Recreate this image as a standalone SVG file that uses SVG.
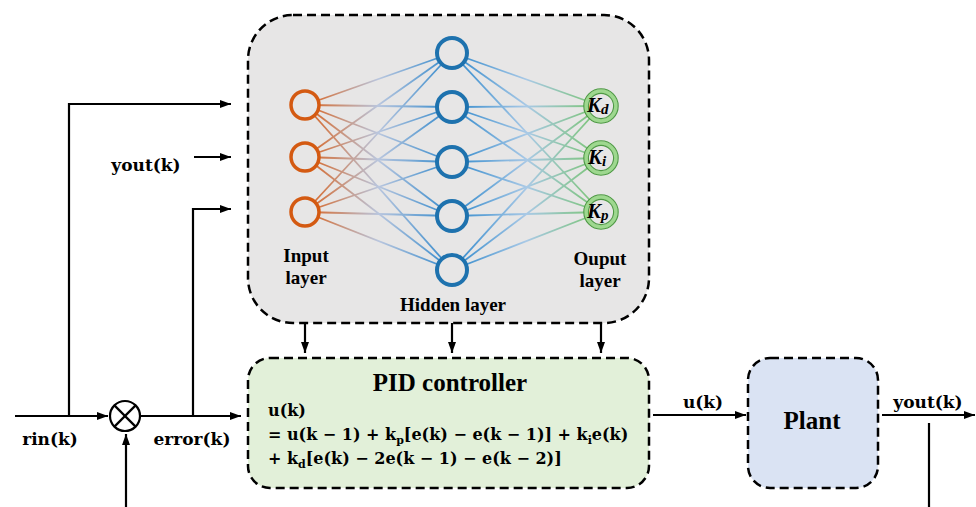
<svg xmlns="http://www.w3.org/2000/svg" width="976" height="507" viewBox="0 0 976 507">
<defs>
<marker id="ah" viewBox="0 0 11 10" refX="11" refY="5" markerWidth="11" markerHeight="10" markerUnits="userSpaceOnUse" orient="auto">
<path d="M0,1 L11,5 L0,9 Z" fill="#000"/>
</marker>
<linearGradient id="gIH" gradientUnits="userSpaceOnUse" x1="305" y1="0" x2="452" y2="0">
<stop offset="0" stop-color="#D9621E"/>
<stop offset="0.5" stop-color="#B9C6DE"/>
<stop offset="1" stop-color="#2F88CC"/>
</linearGradient>
<linearGradient id="gHO" gradientUnits="userSpaceOnUse" x1="452" y1="0" x2="601" y2="0">
<stop offset="0" stop-color="#2F88CC"/>
<stop offset="0.5" stop-color="#A9C9E6"/>
<stop offset="1" stop-color="#78C46E"/>
</linearGradient>
</defs>
<style>
.box{stroke:#000;stroke-width:2.5;stroke-dasharray:9 5}
.ln{fill:none;stroke:#000;stroke-width:2.2}
.ih{stroke:url(#gIH);stroke-width:1.8}
.ho{stroke:url(#gHO);stroke-width:1.8}
.in{fill:#E7E6E6;stroke:#D45A12;stroke-width:3.5}
.hid{fill:#E7E6E6;stroke:#1E72AE;stroke-width:4}
.out{fill:#E7E6E6;stroke:#9ED88F;stroke-width:4}
.ring{fill:none;stroke:#4E9A44;stroke-width:1.1}
</style>
<rect width="976" height="507" fill="#fff"/>

<g id="nn">
<rect class="box" x="248" y="15" width="401" height="308" rx="45" fill="#E7E6E6"/>
<g id="edges-ih" class="ih">
<line x1="305" y1="105" x2="452" y2="53"/><line x1="305" y1="105" x2="452" y2="107"/><line x1="305" y1="105" x2="452" y2="162"/><line x1="305" y1="105" x2="452" y2="216"/><line x1="305" y1="105" x2="452" y2="270"/>
<line x1="305" y1="157" x2="452" y2="53"/><line x1="305" y1="157" x2="452" y2="107"/><line x1="305" y1="157" x2="452" y2="162"/><line x1="305" y1="157" x2="452" y2="216"/><line x1="305" y1="157" x2="452" y2="270"/>
<line x1="305" y1="212" x2="452" y2="53"/><line x1="305" y1="212" x2="452" y2="107"/><line x1="305" y1="212" x2="452" y2="162"/><line x1="305" y1="212" x2="452" y2="216"/><line x1="305" y1="212" x2="452" y2="270"/>
</g>
<g id="edges-ho" class="ho">
<line x1="452" y1="53" x2="601" y2="106"/><line x1="452" y1="53" x2="601" y2="158"/><line x1="452" y1="53" x2="601" y2="212"/>
<line x1="452" y1="107" x2="601" y2="106"/><line x1="452" y1="107" x2="601" y2="158"/><line x1="452" y1="107" x2="601" y2="212"/>
<line x1="452" y1="162" x2="601" y2="106"/><line x1="452" y1="162" x2="601" y2="158"/><line x1="452" y1="162" x2="601" y2="212"/>
<line x1="452" y1="216" x2="601" y2="106"/><line x1="452" y1="216" x2="601" y2="158"/><line x1="452" y1="216" x2="601" y2="212"/>
<line x1="452" y1="270" x2="601" y2="106"/><line x1="452" y1="270" x2="601" y2="158"/><line x1="452" y1="270" x2="601" y2="212"/>
</g>
<g id="input-nodes">
<circle class="in" cx="305" cy="105" r="14"/>
<circle class="in" cx="305" cy="157" r="14"/>
<circle class="in" cx="305" cy="212" r="14"/>
</g>
<g id="hidden-nodes">
<circle class="hid" cx="452" cy="53" r="15"/>
<circle class="hid" cx="452" cy="107" r="15"/>
<circle class="hid" cx="452" cy="162" r="15"/>
<circle class="hid" cx="452" cy="216" r="15"/>
<circle class="hid" cx="452" cy="270" r="15"/>
</g>
<g id="output-nodes" font-family="Liberation Serif" font-weight="bold" font-style="italic" fill="#000">
<circle class="out" cx="601" cy="106" r="15"/><circle class="ring" cx="601" cy="106" r="12.6"/><circle class="ring" cx="601" cy="106" r="17.2"/>
<circle class="out" cx="601" cy="158" r="15"/><circle class="ring" cx="601" cy="158" r="12.6"/><circle class="ring" cx="601" cy="158" r="17.2"/>
<circle class="out" cx="601" cy="212" r="15"/><circle class="ring" cx="601" cy="212" r="12.6"/><circle class="ring" cx="601" cy="212" r="17.2"/>
<text x="587" y="112" font-size="21">K<tspan font-size="15" dy="2">d</tspan></text>
<text x="588" y="164" font-size="21">K<tspan font-size="15" dy="2">i</tspan></text>
<text x="587" y="218" font-size="21">K<tspan font-size="15" dy="2">p</tspan></text>
</g>
<g font-family="Liberation Serif" font-weight="bold" font-size="19" text-anchor="middle" fill="#000">
<text x="306" y="262">Input</text>
<text x="306" y="284">layer</text>
<text x="453" y="311">Hidden layer</text>
<text x="600" y="265">Ouput</text>
<text x="600" y="287">layer</text>
</g>
</g>

<g id="pid">
<rect class="box" x="248" y="358" width="401" height="130" rx="22" fill="#E2F0D9"/>
<text x="450" y="391" font-family="Liberation Serif" font-weight="bold" font-size="25" text-anchor="middle">PID controller</text>
<g font-family="DejaVu Serif" font-weight="bold" font-size="16" fill="#000">
<text x="268" y="416">u(k)</text>
<text x="268" y="440">= u(k − 1) + k<tspan font-size="11" dy="4">p</tspan><tspan dy="-4">[e(k) − e(k − 1)] + k</tspan><tspan font-size="11" dy="4">i</tspan><tspan dy="-4">e(k)</tspan></text>
<text x="268" y="464">+ k<tspan font-size="11" dy="4">d</tspan><tspan dy="-4">[e(k) − 2e(k − 1) − e(k − 2)]</tspan></text>
</g>
</g>

<g id="plant">
<rect class="box" x="748" y="358" width="130" height="130" rx="22" fill="#DAE3F3"/>
<text x="812" y="429" font-family="Liberation Serif" font-weight="bold" font-size="25" text-anchor="middle">Plant</text>
</g>

<g id="sum">
<circle cx="125" cy="416" r="15" fill="#fff" stroke="#000" stroke-width="2.2"/>
<line x1="114.4" y1="405.4" x2="135.6" y2="426.6" stroke="#000" stroke-width="2.2"/>
<line x1="135.6" y1="405.4" x2="114.4" y2="426.6" stroke="#000" stroke-width="2.2"/>
</g>

<g id="connectors">
<path class="ln" d="M15,416 H108" marker-end="url(#ah)"/>
<path class="ln" d="M69,416 V104 H231" marker-end="url(#ah)"/>
<path class="ln" d="M194,157 H231" marker-end="url(#ah)"/>
<path class="ln" d="M141,416 H241" marker-end="url(#ah)"/>
<path class="ln" d="M193,416 V209 H231" marker-end="url(#ah)"/>
<path class="ln" d="M126,507 V434" marker-end="url(#ah)"/>
<path class="ln" d="M305,323 V353" marker-end="url(#ah)"/>
<path class="ln" d="M452,323 V353" marker-end="url(#ah)"/>
<path class="ln" d="M601,323 V353" marker-end="url(#ah)"/>
<path class="ln" d="M653,415 H746" marker-end="url(#ah)"/>
<path class="ln" d="M882,415 H975" marker-end="url(#ah)"/>
<path class="ln" d="M929,423 V507"/>
<g font-family="DejaVu Serif" font-weight="bold" font-size="17" text-anchor="middle" fill="#000">
<text x="50" y="445">rin(k)</text>
<text x="146" y="171">yout(k)</text>
<text x="192" y="445">error(k)</text>
<text x="703" y="408">u(k)</text>
<text x="928" y="408">yout(k)</text>
</g>
</g>
</svg>
